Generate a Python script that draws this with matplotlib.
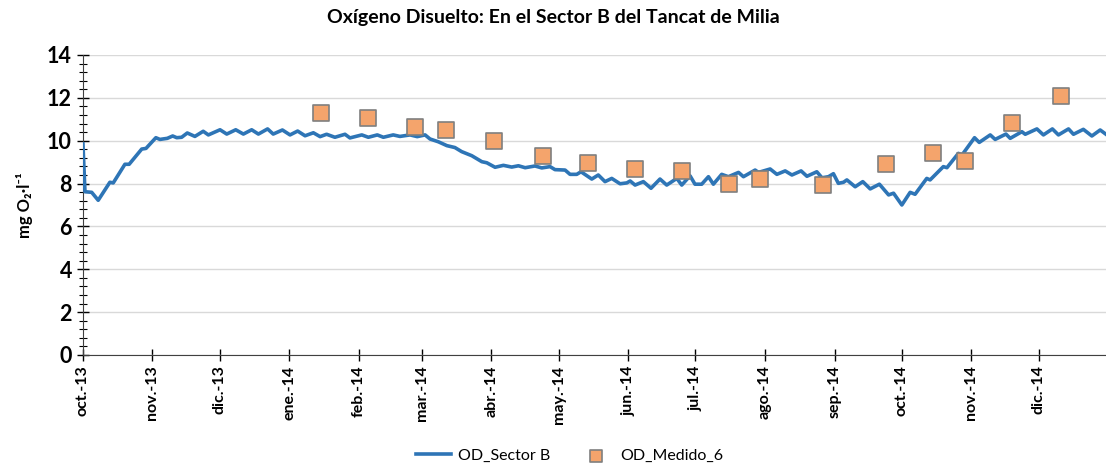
import numpy as np
import pandas as pd
import matplotlib
matplotlib.use("Agg")
import matplotlib.pyplot as plt
from matplotlib.ticker import MultipleLocator

plt.rcParams['font.family'] = ['Lato', 'DejaVu Sans']

start = pd.Timestamp('2013-10-01')

# modelled series, days since 1 Oct 2013 and mg O2/l
sector_days = [0, 0.9, 3.9, 6.8, 12.0, 13.5, 18.7, 20.6, 26.2, 28.1, 32.5, 34.3, 37.6,
               40.0, 41.8, 44.0, 46.5, 49.9, 53.6, 55.9, 61.1, 64.1, 68.1, 71.5, 75.2,
               78.2, 82.3, 84.8, 88.9, 92.3, 95.7, 99.0, 102.7, 105.7, 108.6, 112.3,
               116.8, 119.0, 124.3, 127.2, 131.2, 133.9, 138.3, 141.3, 145.8, 149.0,
               152.5, 154.7, 158.4, 162.2, 165.8, 168.8, 173.3, 177.8, 180.0, 183.7,
               187.4, 191.1, 194.1, 197.1, 201.5, 204.5, 208.2, 210.4, 214.9, 217.1,
               220.1, 222.0, 226.8, 229.7, 232.7, 235.7, 239.4, 242.4, 243.9, 246.1,
               249.8, 253.2, 257.2, 260.2, 264.7, 266.9, 270.6, 272.8, 275.8, 278.8,
               281.0, 284.7, 287.7, 292.2, 294.4, 299.6, 301.1, 306.3, 309.3, 313.0,
               316.0, 320.1, 322.7, 327.1, 329.4, 332.3, 334.5, 336.7, 339.0, 340.5,
               344.2, 347.6, 350.9, 355.0, 359.1, 361.3, 365.0, 368.7, 370.9, 376.1,
               377.6, 383.5, 385.1, 390.2, 391.8, 397.4, 399.5, 404.4, 406.6, 411.4,
               413.3, 418.5, 420.0, 425.2, 428.1, 432.1, 434.8, 439.3, 441.5, 445.9,
               449.7, 453.4, 456.0]
sector_od = [9.85, 7.62, 7.59, 7.22, 8.06, 8.03, 8.90, 8.90, 9.61, 9.64, 10.14, 10.06, 10.11,
             10.22, 10.14, 10.16, 10.36, 10.20, 10.44, 10.27, 10.51, 10.31, 10.51, 10.31, 10.51,
             10.31, 10.55, 10.31, 10.50, 10.27, 10.45, 10.23, 10.37, 10.19, 10.30, 10.16,
             10.30, 10.13, 10.27, 10.16, 10.27, 10.16, 10.27, 10.20, 10.27, 10.19,
             10.27, 10.08, 9.95, 9.77, 9.68, 9.49, 9.30, 9.02, 8.97, 8.76,
             8.85, 8.77, 8.83, 8.74, 8.82, 8.73, 8.79, 8.65, 8.63, 8.43,
             8.43, 8.55, 8.21, 8.40, 8.09, 8.24, 7.99, 8.03, 8.12, 7.93,
             8.09, 7.78, 8.21, 7.93, 8.24, 7.93, 8.36, 7.97, 7.97, 8.32,
             7.97, 8.43, 8.32, 8.52, 8.32, 8.63, 8.52, 8.68, 8.43, 8.59,
             8.40, 8.59, 8.34, 8.55, 8.27, 8.32, 8.46, 8.01, 8.06, 8.17,
             7.85, 8.09, 7.75, 7.97, 7.47, 7.55, 7.00, 7.59, 7.50, 8.24,
             8.17, 8.79, 8.74, 9.41, 9.33, 10.14, 9.92, 10.27, 10.06, 10.31,
             10.11, 10.42, 10.30, 10.55, 10.27, 10.55, 10.27, 10.55, 10.30, 10.53,
             10.22, 10.50, 10.30]

# field measurements
medido_dates = ['2014-01-15', '2014-02-05', '2014-02-26', '2014-03-12', '2014-04-02',
                '2014-04-24', '2014-05-14', '2014-06-04', '2014-06-25', '2014-07-16',
                '2014-07-30', '2014-08-27', '2014-09-24', '2014-10-15', '2014-10-29',
                '2014-11-19', '2014-12-11']
medido_od = [11.29, 11.06, 10.66, 10.50, 10.00, 9.28, 8.96, 8.68, 8.57, 7.99,
             8.21, 7.92, 8.89, 9.42, 9.06, 10.83, 12.08]

month_labels = ['oct.-13', 'nov.-13', 'dic.-13', 'ene.-14', 'feb.-14', 'mar.-14',
                'abr.-14', 'may.-14', 'jun.-14', 'jul.-14', 'ago.-14', 'sep.-14',
                'oct.-14', 'nov.-14', 'dic.-14']

x_line = start + pd.to_timedelta(sector_days, unit='D')
x_med = pd.to_datetime(medido_dates)
month_ticks = pd.date_range('2013-10-01', periods=len(month_labels), freq='MS')

fig = plt.figure(figsize=(11.06, 4.68), dpi=100)
ax = fig.add_axes([0.075, 0.2415, 0.925, 0.641])

ax.plot(x_line, sector_od, color='#2E75B6', lw=2.6, label='OD_Sector B', zorder=3)
ax.scatter(x_med, medido_od, marker='s', s=120, facecolor='#F4A46C',
           edgecolor='#7F7F7F', linewidth=1.2, label='OD_Medido_6', zorder=4)

ax.set_xlim(start, pd.Timestamp('2014-12-31'))
ax.set_ylim(0, 14)
ax.yaxis.set_major_locator(MultipleLocator(2))
ax.yaxis.set_minor_locator(MultipleLocator(0.4))
ax.grid(axis='y', color='#D9D9D9', lw=1)
ax.set_axisbelow(True)

ax.set_xticks(month_ticks)
ax.set_xticklabels(month_labels, rotation=90, fontsize=11.5, fontweight='bold')
for lab in ax.get_yticklabels():
    lab.set_fontweight('bold')
ax.tick_params(axis='y', which='major', labelsize=15.5, direction='inout', length=9, width=1)
ax.tick_params(axis='y', which='minor', direction='inout', length=6, width=0.8)
ax.tick_params(axis='x', direction='inout', length=8, width=1)

for side in ['top', 'right']:
    ax.spines[side].set_visible(False)
ax.spines['left'].set_color('#404040')
ax.spines['bottom'].set_color('#404040')

ax.set_ylabel('mg O₂·l⁻¹', fontsize=12, fontweight='bold', labelpad=10)
fig.text(0.5, 0.962, 'Oxígeno Disuelto: En el Sector B del Tancat de Milia',
         ha='center', va='center', fontsize=14, fontweight='bold')

fig.legend(loc='lower center', bbox_to_anchor=(0.515, -0.02), ncol=2, frameon=False,
           fontsize=11.5, handlelength=2.2, handletextpad=0.4, columnspacing=1.8,
           markerscale=0.8)

fig.savefig('out.png', dpi=100)
